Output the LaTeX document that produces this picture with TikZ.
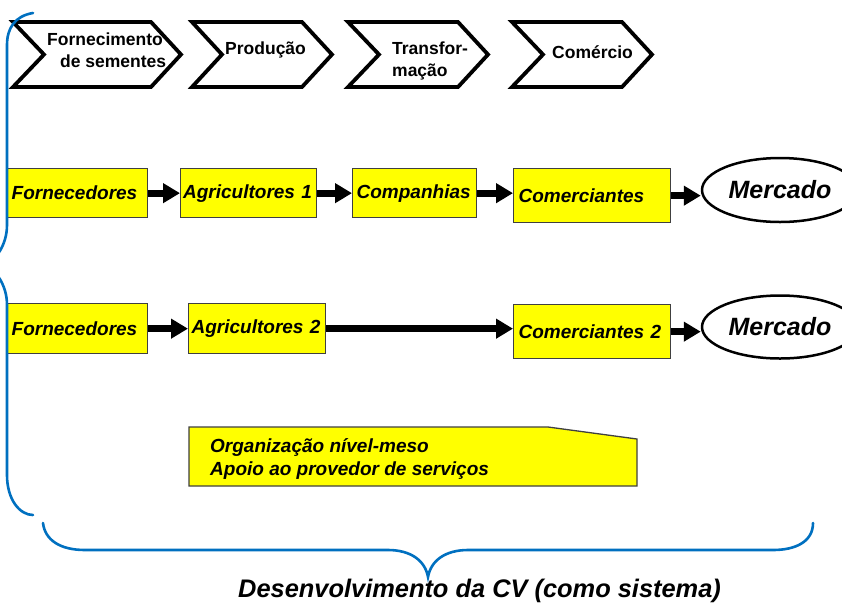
\documentclass[tikz,border=0pt]{standalone}
\usepackage{fontspec}
\setmainfont{Liberation Sans}
\usetikzlibrary{arrows.meta,shapes.geometric}
\definecolor{bracecol}{RGB}{0,112,192}
\definecolor{boxfill}{RGB}{255,255,0}
\definecolor{boxline}{RGB}{64,64,64}
\newcommand\chfont{\fontsize{17.5}{21.5}\selectfont\bfseries}
\newcommand\bxfont{\fontsize{19}{23}\selectfont\bfseries\itshape}
\newcommand\mkfont{\fontsize{25}{28}\selectfont\bfseries\itshape}
\newcommand\ttlfont{\fontsize{25.4}{28}\selectfont\bfseries\itshape}
\tikzset{
  chevron/.style={draw=black, line width=3.8pt, fill=white, line join=miter},
  chtext/.style={font=\chfont, inner sep=0pt, align=left},
  ybox/.style={draw=boxline, fill=boxfill, line width=1.3pt, font=\bxfont,
    anchor=north west, inner xsep=4pt, inner ysep=0pt, align=left},
  market/.style={ellipse, draw=black, line width=2.5pt, fill=white, font=\mkfont,
    minimum width=156pt, inner sep=0pt},
  arr/.style={line width=7pt, -{Triangle[length=17pt,width=19pt]}},
  brace/.style={draw=bracecol, line width=2.6pt, line cap=round},
}
\begin{document}
\begin{tikzpicture}[x=1pt,y=-1pt]
\useasboundingbox (0,0) rectangle (842,603);
\clip (0,0) rectangle (842,603);
\fill[white] (0,0) rectangle (842,603);

% chevrons
\draw[chevron] (13,22) -- (151,22) -- (181,54.5) -- (151,87) -- (13,87) -- (44,54.5) -- cycle;
\draw[chevron] (192,22) -- (302,22) -- (332,54.5) -- (302,87) -- (192,87) -- (222,54.5) -- cycle;
\draw[chevron] (348,22) -- (458,22) -- (488,54.5) -- (458,87) -- (348,87) -- (379,54.5) -- cycle;
\draw[chevron] (512,22) -- (622,22) -- (652,54.5) -- (622,87) -- (512,87) -- (543,54.5) -- cycle;
\node[chtext, anchor=north west] (t1) at (47,33) {Fornecimento\\\hspace*{13pt}de sementes};
\node[chtext, anchor=base west] (t2) at (225,54) {Produção};
\node[chtext, anchor=north west] (t3) at (392,42) {Transfor-\\mação};
\node[chtext, anchor=base west] (t4) at (552,58) {Comércio};

% row 1
\node[ybox, text width=132pt, minimum height=49pt] (f1) at (7,168) {Fornecedores};
\node[ybox, inner xsep=2.5pt, text width=131pt, minimum height=49pt] (a1) at (180,168) {Agricultores 1};
\node[ybox, text width=116pt, minimum height=49pt] (c1) at (352,168) {Companhias};
\node[ybox, inner xsep=5pt, text width=147pt, minimum height=54pt] (m1) at (513,168) {Comerciantes};
\node[market, minimum height=64pt] (k1) at (780,190) {Mercado};
\draw[arr] (f1.east) -- (a1.west);
\draw[arr] (a1.east) -- (c1.west);
\draw[arr] (c1.east) -- (c1.east -| m1.west);
\draw[arr] (m1.east) -- (m1.east -| k1.west);

% row 2
\node[ybox, text width=132pt, minimum height=50pt] (f2) at (7,303) {Fornecedores};
\node[ybox, inner xsep=3pt, text width=131pt, minimum height=50pt] (a2) at (188,303) {Agricultores 2};
\node[ybox, inner xsep=5pt, text width=147pt, minimum height=54pt] (m2) at (513,304) {Comerciantes 2};
\node[market, minimum height=63pt] (k2) at (780,327) {Mercado};
\draw[arr] (f2.east) -- (a2.west);
\draw[arr] (a2.east) -- (a2.east -| m2.west);
\draw[arr] (m2.east) -- (m2.east -| k2.west);

% note box
\draw[draw=boxline, fill=boxfill, line width=1.3pt] (189,427) -- (548,427) -- (637,439) -- (637,486) -- (189,486) -- cycle;
\node[font=\bxfont, inner sep=0pt, align=left, anchor=north west] (note) at (210,438)
  {Organização nível-meso\\Apoio ao provedor de serviços};

% braces
\draw[brace] (33,13) .. controls (15,16) and (7,28) .. (7,45) -- (7,225)
  .. controls (7,245) and (-4,258) .. (-12,265)
  .. controls (-4,272) and (7,285) .. (7,305) -- (7,475)
  .. controls (7,500) and (20,515) .. (33,515);
\draw[brace] (43,523) .. controls (45,540) and (60,550) .. (85,550) -- (388,550)
  .. controls (410,550) and (425,560) .. (428,577)
  .. controls (431,560) and (446,550) .. (468,550) -- (773,550)
  .. controls (795,550) and (813,542) .. (813,523);

\node[font=\ttlfont, inner sep=0pt, anchor=base west] (title) at (238,597) {Desenvolvimento da CV (como sistema)};
\end{tikzpicture}
\end{document}
